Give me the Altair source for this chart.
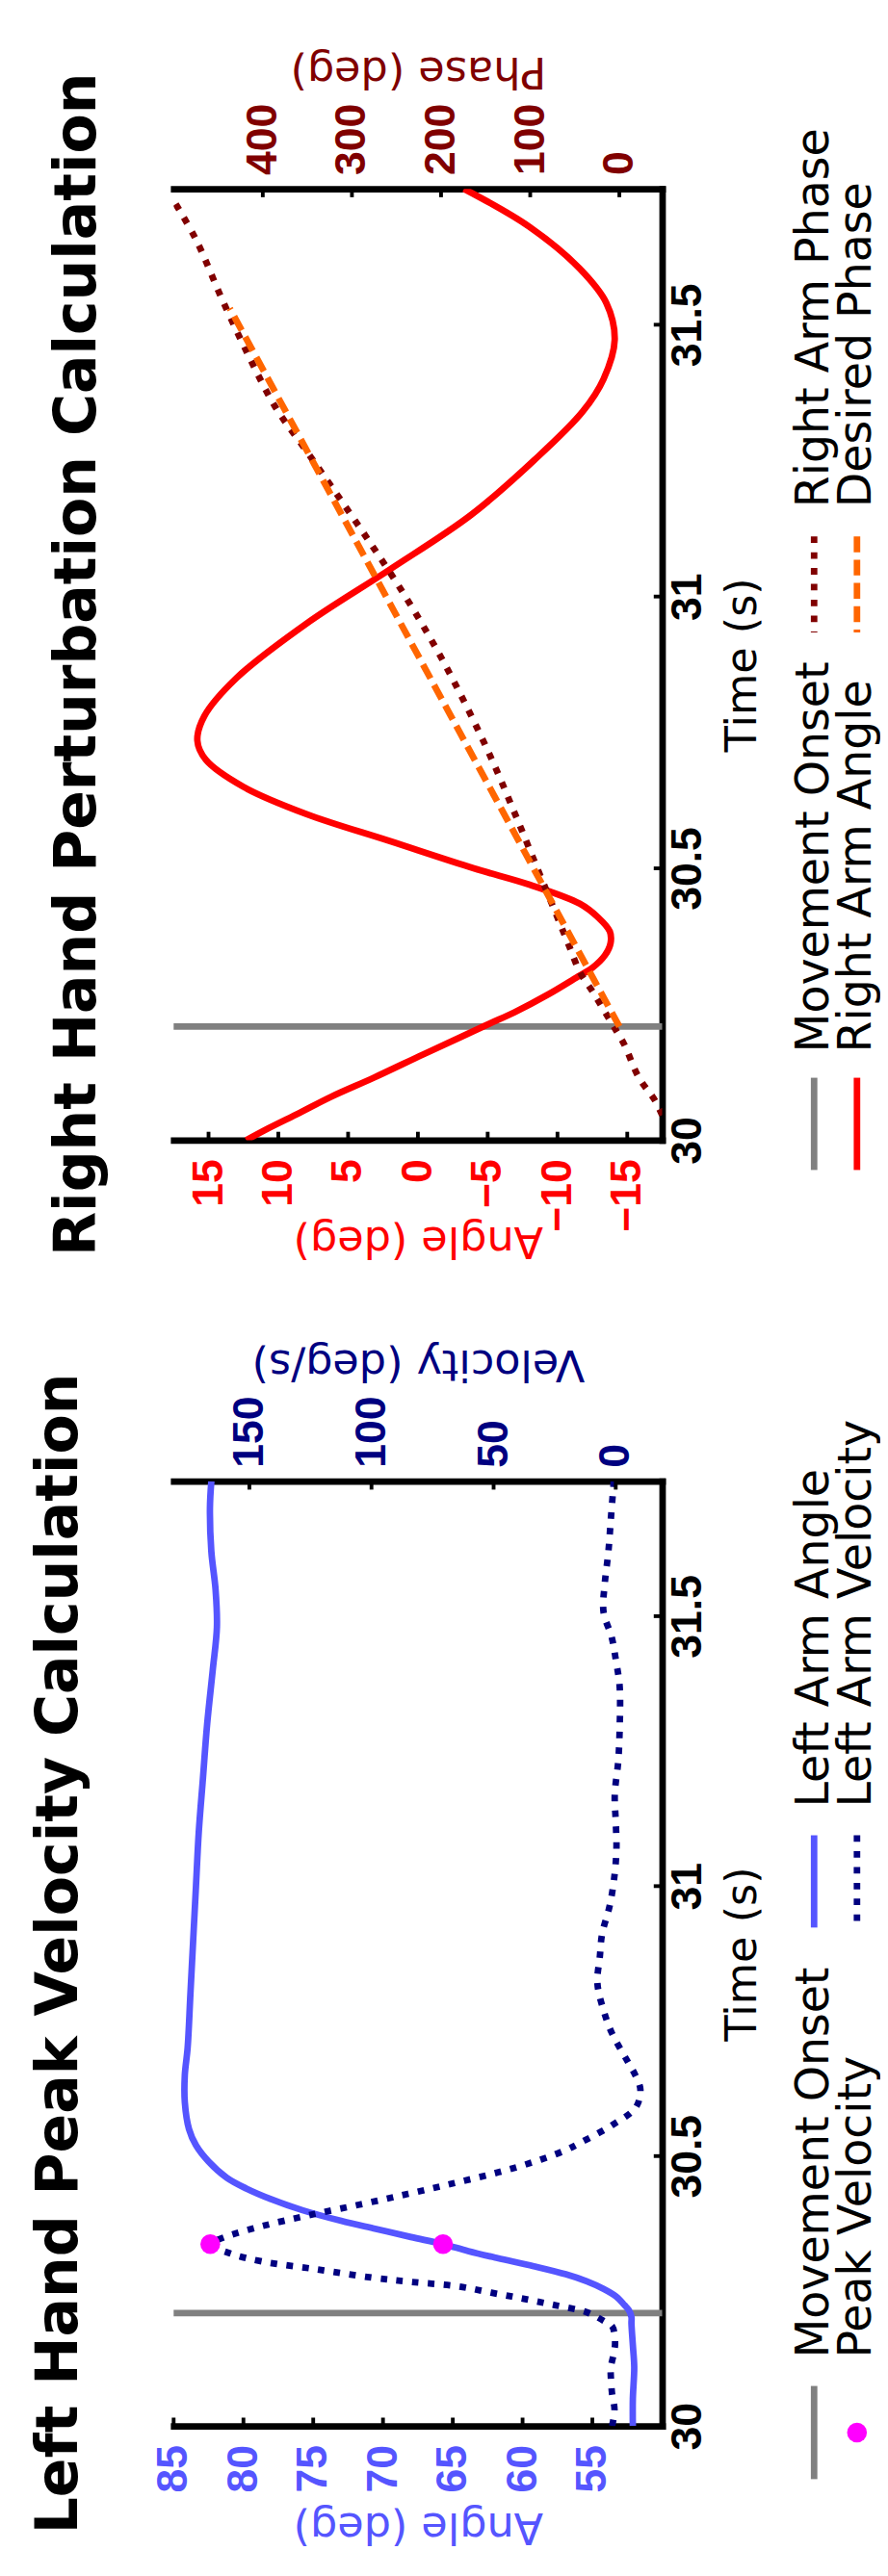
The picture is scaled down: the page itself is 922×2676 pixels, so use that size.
import altair as alt
import pandas as pd

FONT = "DejaVu Sans"
LABEL_FONT = "Liberation Sans"
GRAY = "#808080"
MAGENTA = "#FF00FF"
LBLUE = "#5555FF"
NAVY = "#000080"
RED = "#FF0000"
DRED = "#800000"
ORANGE = "#FF6600"

# ---------------- shared time data ----------------
T_DOMAIN = [30, 31.75]
TIME_TICKS = [30, 30.5, 31, 31.5]
ONSET_T = 30.209

# ---------------- Right hand (top panel) ----------------
RA_T = [30.000, 30.022, 30.05, 30.080, 30.115, 30.158, 30.19, 30.214, 30.235, 30.269,
        30.303, 30.317, 30.34, 30.362, 30.384, 30.41, 30.435, 30.47, 30.50, 30.55,
        30.60, 30.65, 30.70, 30.735, 30.78, 30.85, 30.95, 31.05, 31.15, 31.25,
        31.34, 31.40, 31.472, 31.54, 31.603, 31.68, 31.75]
RA_ANGLE = [12.3, 10.7, 8.5, 6.2, 3.15, -0.4, -3.1, -5.1, -6.9, -9.4,
            -11.6, -12.5, -13.4, -13.8, -13.75, -12.9, -11.6, -8.0, -4.0, 2.0,
            8.0, 12.5, 15.2, 15.8, 15.3, 13.0, 8.0, 2.0, -3.8, -8.3,
            -11.8, -13.3, -14.1, -13.5, -11.6, -8.0, -3.3]
RP_T = [30.046, 30.074, 30.115, 30.177, 30.206, 30.274, 30.308, 30.36, 30.42, 30.50,
        30.60, 30.70, 30.80, 30.90, 31.00, 31.10, 31.20, 31.27, 31.349, 31.445,
        31.548, 31.657, 31.731]
RP_PHASE = [-48, -39.6, -21.9, -5.2, 5.2, 30.3, 43.9, 57, 72, 92,
            117, 143, 172, 204, 240, 280, 322, 352, 386, 416.5,
            446, 475, 501]
DP_T = [30.209, 31.53]
DP_PHASE = [0, 437]
R_ANGLE_DOMAIN = [-17.5, 17.5]
R_PHASE_DOMAIN = [-48, 500]
R_ANGLE_TICKS = [-15, -10, -5, 0, 5, 10, 15]
R_PHASE_TICKS = [0, 100, 200, 300, 400]

# ---------------- Left hand (bottom panel) ----------------
LA_T = [30.00, 30.05, 30.109, 30.15, 30.19, 30.202, 30.215, 30.224, 30.24, 30.254,
        30.268, 30.281, 30.296, 30.311, 30.324, 30.337, 30.35, 30.365, 30.38, 30.40,
        30.42, 30.44, 30.46, 30.49, 30.52, 30.55, 30.60, 30.65, 30.70, 30.80,
        30.90, 31.00, 31.10, 31.20, 31.30, 31.40, 31.48, 31.55, 31.62, 31.70, 31.75]
LA_ANGLE = [52.1, 52.1, 52.0, 52.1, 52.2, 52.2, 52.4, 52.7, 53.3, 54.2,
            55.4, 56.9, 59.2, 61.8, 63.9, 65.7, 68.0, 70.5, 73.0, 75.8,
            78.0, 79.8, 81.2, 82.5, 83.4, 83.9, 84.2, 84.2, 84.0, 83.8,
            83.6, 83.4, 83.2, 82.9, 82.6, 82.2, 81.9, 82.0, 82.3, 82.4, 82.3]
LV_T = [30.00, 30.03, 30.06, 30.09, 30.109, 30.13, 30.15, 30.17, 30.185, 30.195,
        30.205, 30.212, 30.224, 30.236, 30.247, 30.259, 30.267, 30.275, 30.29, 30.305,
        30.32, 30.337, 30.35, 30.37, 30.39, 30.41, 30.43, 30.45, 30.47, 30.49,
        30.51, 30.524, 30.557, 30.59, 30.623, 30.65, 30.675, 30.728, 30.77, 30.82,
        30.87, 30.911, 30.965, 31.02, 31.07, 31.12, 31.17, 31.23, 31.29, 31.37,
        31.42, 31.46, 31.508, 31.56, 31.62, 31.68, 31.738, 31.75]
LV_VEL = [1.5, 0.5, 1.5, 2.0, 2.0, 1.0, 0.3, 0.5, 1.5, 5,
          9, 12.7, 25, 38, 51, 65, 84, 100, 122, 145,
          158, 166, 160, 145, 126, 105, 85, 66, 48, 33,
          21, 14.8, 1.6, -8.2, -10.1, -8, -4.9, 1.6, 5, 7.5,
          6.5, 5.6, 2.4, 0.5, -0.3, 0, 0.4, -1, -1.6, -1.6,
          0, 1.6, 5.0, 4.5, 3.0, 2.0, 1.0, 0.8]
PEAK_T = [30.337]
PEAK_V = [166]
PEAK_A = [65.7]
L_ANGLE_DOMAIN = [50, 85]
L_VEL_DOMAIN = [-19, 181]
L_ANGLE_TICKS = [55, 60, 65, 70, 75, 80, 85]
L_VEL_TICKS = [0, 50, 100, 150]

# ---------------- legends ----------------
TOP_LEG_LABELS = ["Movement Onset", "Right Arm Phase", "Right Arm Angle", "Desired Phase"]
BOT_LEG_LABELS = ["Movement Onset", "Left Arm Angle", "Peak Velocity", "Left Arm Velocity"]

# ---------------- layout constants ----------------
W = 524
H_TOP = 1021
H_BOT = 1014
LABEL_FS = 46
TITLE_FS = 46
LEG_FS = 49
LW = 7
DOT_DASH = [7, 10]
DASH_DASH = [17, 8]

LABEL_STYLE = dict(labelFontSize=LABEL_FS, labelFont=LABEL_FONT, labelFontWeight="bold")
COMMON = dict(titleFontSize=TITLE_FS, titleFontWeight="normal", titleFont=FONT,
              domainColor="black", domainWidth=LW, domainCap="square", ticks=False,
              grid=False, labelFlush=False, labelOverlap=False)


def tscale():
    return alt.Scale(domain=T_DOMAIN, nice=False, zero=False)


def time_axis():
    return alt.Axis(orient="right", values=TIME_TICKS, format="~g", title="Time (s)",
                    labelAngle=270, labelAlign="center", labelBaseline="top", labelPadding=5,
                    labelColor="black", titleAngle=270, titleBaseline="top", titlePadding=14,
                    titleColor="black", **LABEL_STYLE, **COMMON)


def bottom_axis(title, values, color):
    return alt.Axis(orient="bottom", values=values, title=title,
                    labelAngle=270, labelAlign="right", labelBaseline="middle", labelPadding=20,
                    labelColor=color, titleAngle=180, titleBaseline="bottom", titleY=83,
                    titleColor=color, **LABEL_STYLE, **COMMON)


def top_axis(title, values, color):
    return alt.Axis(orient="top", values=values, title=title,
                    labelAngle=270, labelAlign="left", labelBaseline="middle", labelPadding=15,
                    labelColor=color, titleAngle=180, titleBaseline="top", titleY=-105,
                    titleColor=color, **LABEL_STYLE, **COMMON)


def xscale(domain):
    return alt.Scale(domain=domain, reverse=True, nice=False, zero=False)


def y_enc(field):
    return alt.Y(field, type="quantitative", scale=tscale(), axis=time_axis())


def series_line(t, vals, domain, axis, color, dash=None):
    df = pd.DataFrame({"t": t, "v": vals})
    kw = dict(color=color, strokeWidth=LW, clip=True, interpolate="catmull-rom")
    if dash:
        kw["strokeDash"] = dash
        kw["strokeCap"] = "butt"
    return alt.Chart(df).mark_line(**kw).encode(
        x=alt.X("v:Q", scale=xscale(domain), axis=axis),
        y=y_enc("t"),
        order=alt.Order("t:Q"),
    )


def x_ticks(values, domain, at_top, H):
    df = pd.DataFrame({"v": values})
    if at_top:
        yy, yy2 = alt.value(0), alt.value(9)
    else:
        yy, yy2 = alt.value(H), alt.value(H - 9)
    return alt.Chart(df).mark_rule(color="black", strokeWidth=4).encode(
        x=alt.X("v:Q", scale=xscale(domain), axis=None), y=yy, y2=yy2)


def t_ticks():
    df = pd.DataFrame({"t": TIME_TICKS})
    return alt.Chart(df).mark_rule(color="black", strokeWidth=4).encode(
        y=y_enc("t"), x=alt.value(W), x2=alt.value(W - 9))


def onset_rule():
    df = pd.DataFrame({"t": [ONSET_T]})
    return alt.Chart(df).mark_rule(color=GRAY, strokeWidth=LW).encode(y=y_enc("t"))


def leg_text(label, x, y):
    return alt.Chart(alt.Data(values=[{}])).mark_text(
        text=label, angle=270, align="left", baseline="middle", fontSize=LEG_FS,
        font=FONT, color="black").encode(x=alt.value(x), y=alt.value(y))


def leg_line(x, y1, y2, color, dash=None):
    kw = dict(color=color, strokeWidth=LW)
    if dash:
        kw["strokeDash"] = dash
        kw["strokeCap"] = "butt"
    return alt.Chart(alt.Data(values=[{}])).mark_rule(**kw).encode(
        x=alt.value(x), y=alt.value(y1), y2=alt.value(y2))


def leg_dot(x, y, color):
    return alt.Chart(alt.Data(values=[{}])).mark_circle(size=452, color=color, opacity=1).encode(
        x=alt.value(x), y=alt.value(y))


# ---------------- top panel ----------------
H = H_TOP
rx0, rx1 = W + 163, W + 209
c0s, c0e, c0t = H - 67, H + 32, H - 94
c1s, c1e, c1t = 373, 476, 342
top_layers = [
    onset_rule(),
    series_line(RA_T, RA_ANGLE, R_ANGLE_DOMAIN,
                bottom_axis("Angle (deg)", R_ANGLE_TICKS, RED), RED),
    series_line(RP_T, RP_PHASE, R_PHASE_DOMAIN,
                top_axis("Phase (deg)", R_PHASE_TICKS, DRED), DRED, DOT_DASH),
    series_line(DP_T, DP_PHASE, R_PHASE_DOMAIN, None, ORANGE, DASH_DASH),
    x_ticks(R_ANGLE_TICKS, R_ANGLE_DOMAIN, False, H),
    x_ticks(R_PHASE_TICKS, R_PHASE_DOMAIN, True, H),
    t_ticks(),
    leg_line(rx0, c0s, c0e, GRAY), leg_text(TOP_LEG_LABELS[0], rx0, c0t),
    leg_line(rx0, c1s, c1e, DRED, DOT_DASH), leg_text(TOP_LEG_LABELS[1], rx0, c1t),
    leg_line(rx1, c0s, c0e, RED), leg_text(TOP_LEG_LABELS[2], rx1, c0t),
    leg_line(rx1, c1s, c1e, ORANGE, DASH_DASH), leg_text(TOP_LEG_LABELS[3], rx1, c1t),
]
top = alt.layer(*top_layers).resolve_scale(x="independent").properties(
    width=W, height=H,
    title=alt.TitleParams("Right Hand Perturbation Calculation", orient="left", anchor="middle",
                          frame="group", offset=68, fontSize=62, fontWeight="bold",
                          font=FONT, color="black"))

# ---------------- bottom panel ----------------
H = H_BOT
bx0, bx1 = W + 163, W + 209
d0s, d0e, d0t = H - 43, H + 57, H - 73
d1s, d1e, d1t = 380, 479, 350
peak_v = pd.DataFrame({"t": PEAK_T, "v": PEAK_V})
peak_a = pd.DataFrame({"t": PEAK_T, "v": PEAK_A})
bot_layers = [
    onset_rule(),
    series_line(LA_T, LA_ANGLE, L_ANGLE_DOMAIN,
                bottom_axis("Angle (deg)", L_ANGLE_TICKS, LBLUE), LBLUE),
    series_line(LV_T, LV_VEL, L_VEL_DOMAIN,
                top_axis("Velocity (deg/s)", L_VEL_TICKS, NAVY), NAVY, DOT_DASH),
    alt.Chart(peak_v).mark_circle(size=452, color=MAGENTA, opacity=1).encode(
        x=alt.X("v:Q", scale=xscale(L_VEL_DOMAIN), axis=None), y=y_enc("t")),
    alt.Chart(peak_a).mark_circle(size=452, color=MAGENTA, opacity=1).encode(
        x=alt.X("v:Q", scale=xscale(L_ANGLE_DOMAIN), axis=None), y=y_enc("t")),
    x_ticks(L_ANGLE_TICKS, L_ANGLE_DOMAIN, False, H),
    x_ticks(L_VEL_TICKS, L_VEL_DOMAIN, True, H),
    t_ticks(),
    leg_line(bx0, d0s, d0e, GRAY), leg_text(BOT_LEG_LABELS[0], bx0, d0t),
    leg_line(bx0, d1s, d1e, LBLUE), leg_text(BOT_LEG_LABELS[1], bx0, d1t),
    leg_dot(bx1, (d0s + d0e) / 2, MAGENTA), leg_text(BOT_LEG_LABELS[2], bx1, d0t),
    leg_line(bx1, d1s, d1e, NAVY, DOT_DASH), leg_text(BOT_LEG_LABELS[3], bx1, d1t),
]
bottom = alt.layer(*bot_layers).resolve_scale(x="independent").properties(
    width=W, height=H,
    title=alt.TitleParams("Left Hand Peak Velocity Calculation", orient="left", anchor="middle",
                          frame="group", offset=68, fontSize=62, fontWeight="bold",
                          font=FONT, color="black"))

chart = alt.vconcat(top, bottom, spacing=366, bounds="flush").properties(
    padding={"left": 23, "top": 0, "right": 0, "bottom": 0}
).configure(font=FONT).configure_view(stroke=None)

chart.save("out.html", embed_options={"renderer": "svg", "actions": False})
